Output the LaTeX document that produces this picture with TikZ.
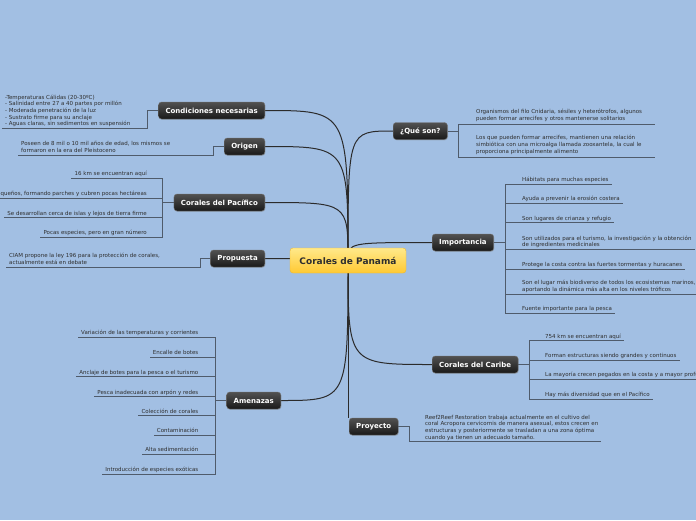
\documentclass[tikz,border=0pt]{standalone}
\usepackage{fontspec}
\setmainfont{DejaVu Sans}
\usetikzlibrary{positioning, shadows}

\definecolor{azulfondo}{HTML}{A2BFE3}
\definecolor{linea}{HTML}{2B2B2B}
\definecolor{gris}{HTML}{4F5B6B}
\definecolor{texto}{HTML}{2E2E2E}
\definecolor{amarilloA}{HTML}{FFE98A}
\definecolor{amarilloB}{HTML}{FFC933}
\definecolor{bordeA}{HTML}{F2B92B}

\pgfdeclarelayer{fondo}
\pgfdeclarelayer{lineas}
\pgfsetlayers{fondo,lineas,main}

\tikzset{
  raiz/.style={rounded corners=3pt, top color=amarilloA, bottom color=amarilloB,
    draw=bordeA, text=texto, font=\fontsize{9}{10}\selectfont\bfseries,
    minimum width=116pt, minimum height=25pt},
  tema/.style={rounded corners=3pt, top color=black!68, bottom color=black!90,
    draw=black!55, line width=0.4pt, text=white,
    font=\fontsize{7}{8}\selectfont\bfseries, minimum height=17pt, inner xsep=7pt,
    drop shadow={shadow xshift=0.6pt, shadow yshift=-0.8pt, opacity=0.35}},
  hoja/.style={font=\fontsize{5.5}{6.7}\selectfont, text=texto, align=left,
    inner xsep=3pt, inner ysep=1.2pt, text depth=1.2pt},
  hojaancha/.style={hoja, text width=176pt, text depth=, inner ysep=2.4pt},
  conector/.style={draw=linea, line width=1pt},
  rama/.style={draw=gris, line width=0.8pt},
}

\begin{document}
\begin{tikzpicture}[x=1pt, y=-1pt]
    \useasboundingbox (0,0) rectangle (696,520);
    \clip (0,0) rectangle (696,520);
    \begin{pgfonlayer}{fondo}
        \fill[azulfondo] (0,0) rectangle (696,520);
    \end{pgfonlayer}

    % Nodo central
    \node[raiz] (raiz) at (348,260.5) {Corales de Panamá};

    % Temas de la izquierda
    \node[tema, anchor=east] (condiciones) at (265,110.5) {Condiciones necesarias};
    \node[tema, anchor=east] (origen) at (265,146.5) {Origen};
    \node[tema, anchor=east] (pacifico) at (265,202.5) {Corales del Pacífico};
    \node[tema, anchor=east] (propuesta) at (265,258.5) {Propuesta};
    \node[tema, anchor=east] (amenazas) at (281,400.5) {Amenazas};

    % Temas de la derecha
    \node[tema, anchor=west] (queson) at (393,131) {¿Qué son?};
    \node[tema, anchor=west] (importancia) at (432,242.5) {Importancia};
    \node[tema, anchor=west] (caribe) at (432,364.5) {Corales del Caribe};
    \node[tema, anchor=west] (proyecto) at (349,426.5) {Proyecto};

    % Conectores desde el centro
    \begin{pgfonlayer}{lineas}
        \foreach \t in {condiciones, origen, pacifico, propuesta, amenazas} {
            \draw[conector] (raiz.center) .. controls (raiz.center |- \t.east) .. (\t.east);
        }
        \foreach \t in {queson, importancia, caribe} {
            \draw[conector] (raiz.center) .. controls (raiz.center |- \t.west) .. (\t.west);
        }
        \draw[conector] (raiz.center) -- (raiz.center |- proyecto.north);
    \end{pgfonlayer}

    % Condiciones necesarias
    \node[hoja, anchor=south west] (condtxt) at (2,128.5)
        {-Temperaturas Cálidas (20-30ºC)\\- Salinidad entre 27 a 40 partes por millón\\- Moderada penetración de la luz\\- Sustrato firme para su anclaje\\- Aguas claras, sin sedimentos en suspensión};
    \draw[rama] (condiciones.west) -- ++(-11,0) |- (condtxt.south west);

    % Origen
    \node[hoja, anchor=south west] (origtxt) at (18,155)
        {Poseen de 8 mil o 10 mil años de edad, los mismos se\\formaron en la era del Pleistoceno};
    \draw[rama] (origen.west) -- ++(-11,0) |- (origtxt.south west);

    % Corales del Pacifico
    \node[hoja, anchor=south east] (pac1) at (150,178.3) {16 km se encuentran aquí};
    \node[hoja, anchor=south east] (pac2) at (150,198.3) {Son pequeños, formando parches y cubren pocas hectáreas};
    \node[hoja, anchor=south east] (pac3) at (150,217.7) {Se desarrollan cerca de islas y lejos de tierra firme};
    \node[hoja, anchor=south east] (pac4) at (150,237.3) {Pocas especies, pero en gran número};
    \draw[rama] (pacifico.west) -- ++(-11,0) coordinate (pacbar);
    \foreach \h in {pac1, pac2, pac3, pac4} {
        \draw[rama] (pacbar) |- (\h.south west);
    }

    % Propuesta
    \node[hoja, anchor=south west] (proptxt) at (6,267)
        {CIAM propone la ley 196 para la protección de corales,\\actualmente está en debate};
    \draw[rama] (propuesta.west) -- ++(-10,0) |- (proptxt.south west);

    % Amenazas
    \node[hoja, anchor=south east] (ame1) at (201.5,337.3) {Variación de las temperaturas y corrientes};
    \node[hoja, anchor=south east] (ame2) at (201.5,357.3) {Encalle de botes};
    \node[hoja, anchor=south east] (ame3) at (201.5,376.7) {Anclaje de botes para la pesca o el turismo};
    \node[hoja, anchor=south east] (ame4) at (201.5,396.7) {Pesca inadecuada con arpón y redes};
    \node[hoja, anchor=south east] (ame5) at (201.5,415.7) {Colección de corales};
    \node[hoja, anchor=south east] (ame6) at (201.5,435) {Contaminación};
    \node[hoja, anchor=south east] (ame7) at (201.5,454.3) {Alta sedimentación};
    \node[hoja, anchor=south east] (ame8) at (201.5,474) {Introducción de especies exóticas};
    \draw[rama] (amenazas.west) -- ++(-11,0) coordinate (amebar);
    \foreach \h in {ame1, ame2, ame3, ame4, ame5, ame6, ame7, ame8} {
        \draw[rama] (amebar) |- (\h.south west);
    }

    % Que son
    \node[hojaancha, anchor=south west] (que1) at (473,124.3)
        {Organismos del filo Cnidaria, sésiles y heterótrofos, algunos\\pueden formar arrecifes y otros mantenerse solitarios};
    \node[hojaancha, anchor=south west] (que2) at (473,157)
        {Los que pueden formar arrecifes, mantienen una relación\\simbiótica con una microalga llamada zooxantela, la cual le\\proporciona principalmente alimento};
    \draw[rama] (queson.east) -- ++(11,0) coordinate (quebar);
    \foreach \h in {que1, que2} {
        \draw[rama] (quebar) |- (\h.south east);
    }

    % Importancia
    \node[hoja, anchor=south west] (imp1) at (519,184) {Hábitats para muchas especies};
    \node[hoja, anchor=south west] (imp2) at (519,203.3) {Ayuda a prevenir la erosión costera};
    \node[hoja, anchor=south west] (imp3) at (519,222.7) {Son lugares de crianza y refugio};
    \node[hoja, anchor=south west] (imp4) at (519,249.5)
        {Son utilizados para el turismo, la investigación y la obtención\\de ingredientes medicinales};
    \node[hoja, anchor=south west] (imp5) at (519,269) {Protege la costa contra las fuertes tormentas y huracanes};
    \node[hoja, anchor=south west] (imp6) at (519,294)
        {Son el lugar más biodiverso de todos los ecosistemas marinos,\\aportando la dinámica más alta en los niveles tróficos};
    \node[hoja, anchor=south west] (imp7) at (519,313.3) {Fuente importante para la pesca};
    \draw[rama] (importancia.east) -- ++(11,0) coordinate (impbar);
    \foreach \h in {imp1, imp2, imp3, imp4, imp5, imp6, imp7} {
        \draw[rama] (impbar) |- (\h.south east);
    }

    % Corales del Caribe
    \node[hoja, anchor=south west] (car1) at (542,340.7) {754 km se encuentran aquí};
    \node[hoja, anchor=south west] (car2) at (542,360) {Forman estructuras siendo grandes y continuos};
    \node[hoja, anchor=south west] (car3) at (542,379.3) {La mayoría crecen pegados en la costa y a mayor profundidad};
    \node[hoja, anchor=south west] (car4) at (542,399) {Hay más diversidad que en el Pacífico};
    \draw[rama] (caribe.east) -- ++(11,0) coordinate (carbar);
    \foreach \h in {car1, car2, car3, car4} {
        \draw[rama] (carbar) |- (\h.south east);
    }

    % Proyecto
    \node[hoja, anchor=south west] (proytxt) at (422,441.7)
        {Reef2Reef Restoration trabaja actualmente en el cultivo del\\coral Acropora cervicornis de manera asexual, estos crecen en\\estructuras y posteriormente se trasladan a una zona óptima\\cuando ya tienen un adecuado tamaño.};
    \draw[rama] (proyecto.east) -- ++(11,0) |- (proytxt.south east);
\end{tikzpicture}
\end{document}
